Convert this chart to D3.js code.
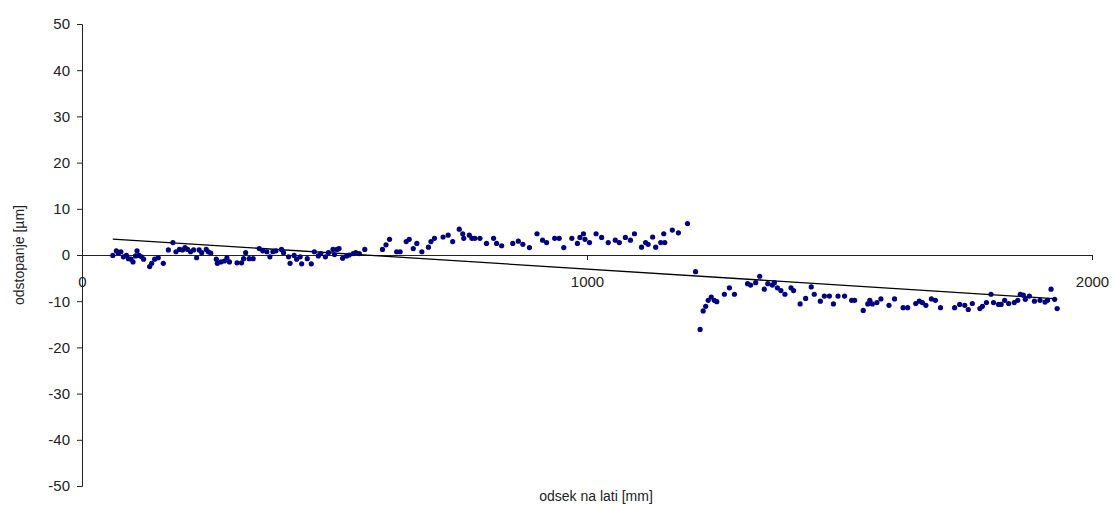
<!DOCTYPE html>
<html>
<head>
<meta charset="utf-8">
<script src="https://cdn.jsdelivr.net/npm/d3@7"></script>
<style>
  body { margin: 0; background: #fff; }
  text { font-family: "Liberation Sans", Arial, sans-serif; fill: #222; }
</style>
</head>
<body>
<svg></svg>
<script>
// odsek [mm] / odstopanje [um]
const seg1_x = [61,68,72,77,82,88,92,97,101,106,109,113,118,122,134,138,144,151,161,171,180,186,193,199,204,209,215,221,227,232,237,246,250,255,266,268,275,282,287,292,307,316,320,324,331,339,351,358,366,372,378,384,395,399,409,412,420,425,432,
  435,446,454,460,468,473,482,488,497,500,505,509,516,524,529,537,542,549,560,595,602,609,623,630,642,648,656,663,673,686,691,698,715,725,734,747,754,756,767,772,778,788,801,815,821,831,
  853,864,873,886,901,912,920,936,945,954,970,981,986,993,996,1005,1018,1029,1042,1056,1064,1076,1086,1094,1108,1116,1121,1130,1136,1146,1154,1152,1169,1181,1199];
const seg1_y = [-0.1,0.9,0.4,0.7,-0.4,-0.1,-0.8,-0.9,-1.5,-0.2,0.9,-0.1,-0.4,-0.9,-2.5,-1.8,-0.9,-0.6,-1.8,1.1,2.7,0.7,1.2,1.1,1.6,1.2,0.7,1.1,-0.6,1.1,0.5,1.2,0.7,0.4,-0.9,-1.8,-1.5,-1.3,-0.6,-1.5,-1.7,-1.7,-0.8,0.5,-0.8,-0.8,1.4,0.9,0.7,-0.4,0.7,0.9,1.2,0.5,-0.4,-1.8,-0.1,-0.9,-0.4,
  -1.9,-0.8,-1.9,0.7,-0.2,0.3,-0.4,0.5,1.2,0.1,1.2,1.4,-0.7,-0.2,0,0.3,0.5,0.3,1.2,1.2,2.2,3.4,0.7,0.7,2.9,3.4,1.4,2.5,0.7,1.7,2.9,3.6,3.9,4.3,2.9,5.6,4.6,3.6,4.3,3.6,3.6,3.6,2.5,3.6,2.5,2.0,
  2.5,3.0,2.3,1.6,4.6,3.2,2.7,3.6,3.6,1.6,3.6,2.5,3.8,4.6,3.4,2.7,4.6,3.8,2.7,3.2,2.7,3.8,3.2,4.6,1.7,2.7,2.3,3.9,1.7,2.7,2.7,4.6,5.4,4.8,6.8];
const seg2_x = [1215,1224,1230,1235,1240,1246,1252,1257,1272,1282,1292,1318,1324,1334,1342,1351,1358,1367,1371,1377,1384,1392,1404,1409,1422,1433,1444,1450,1462,1470,1480,1488,1497,1510,1524,1530,1547,1556,1560,1565,
  1574,1582,1598,1609,1626,1635,1651,1658,1664,1671,1682,1690,1700,1728,1738,1748,1755,1763,1778,1783,1791,1800,1805,1815,1820,1827,1835,1846,1853,1858,1864,1868,1876,1886,1897,1907,1912,1919,1926,1931];
const seg2_y = [-3.6,-16.1,-12.1,-11.1,-9.8,-9.1,-9.8,-10.1,-8.5,-7.1,-8.5,-6.2,-6.5,-6.0,-4.6,-7.4,-6.2,-6.5,-6.0,-7.1,-7.7,-8.5,-7.1,-7.7,-10.6,-9.4,-6.9,-8.5,-10.0,-8.9,-8.9,-10.6,-8.9,-8.9,-9.8,-9.8,-12.0,-10.6,-9.8,-10.6,
  -10.3,-9.5,-10.9,-9.5,-11.4,-11.4,-10.5,-10.0,-10.3,-10.9,-9.5,-9.8,-11.4,-11.4,-10.7,-10.9,-11.8,-10.5,-11.6,-11.1,-10.3,-8.5,-10.3,-10.7,-10.7,-9.8,-10.5,-10.3,-9.8,-8.5,-8.7,-9.6,-8.9,-10.0,-9.8,-10.2,-9.8,-7.4,-9.6,-11.6];

const x_ticks = [0, 1000, 2000];
const y_ticks = [50, 40, 30, 20, 10, 0, -10, -20, -30, -40, -50];
const x_label = "odsek na lati [mm]";
const y_label = "odstopanje [\u00b5m]";

function buildPlot(){
    const width = 1113, height = 505;
    const svg = d3.select("svg").attr("width", width).attr("height", height)
        .attr("viewBox", [0, 0, width, height]);

    const x_scale = d3.scaleLinear().domain([0, 2000]).range([82, 1092]);
    const y_scale = d3.scaleLinear().domain([-50, 50]).range([486, 24]);

    const data = seg1_x.map((x, i) => ({x: x, y: seg1_y[i]}))
        .concat(seg2_x.map((x, i) => ({x: x, y: seg2_y[i]})));

    // y axis at x = 0 (plain hyphen for minus, like the original)
    const y_axis = d3.axisLeft(y_scale).tickValues(y_ticks).tickSize(5).tickPadding(7)
        .tickFormat(d => String(d));
    const gy = svg.append("g").attr("transform", `translate(${x_scale(0)},0)`).call(y_axis);
    gy.selectAll("text").style("font-size", "15px").attr("fill", "#222");
    gy.selectAll("line, path").attr("stroke", "#222");

    // x axis through y = 0, labels pushed lower
    const x_axis = d3.axisBottom(x_scale).tickValues(x_ticks).tickSize(5).tickSizeOuter(0)
        .tickPadding(16).tickFormat(d => String(d));
    const gx = svg.append("g").attr("transform", `translate(0,${y_scale(0)})`).call(x_axis);
    gx.selectAll("text").style("font-size", "15px").attr("fill", "#222");
    gx.selectAll("line, path").attr("stroke", "#222");
    gx.selectAll(".tick").filter(d => d === 0).select("line").remove();

    // linear trend (least squares over all points)
    const mx = d3.mean(data, d => d.x), my = d3.mean(data, d => d.y);
    const slope = d3.sum(data, d => (d.x - mx) * (d.y - my)) / d3.sum(data, d => (d.x - mx) ** 2);
    const icpt = my - slope * mx;
    const ext = d3.extent(data, d => d.x);
    svg.append("path")
        .attr("fill", "none").attr("stroke", "#000").attr("stroke-width", 1.3)
        .attr("d", d3.line().x(d => x_scale(d)).y(d => y_scale(icpt + slope * d))(ext));

    svg.append("g").selectAll("circle").data(data).join("circle")
        .attr("cx", d => x_scale(d.x)).attr("cy", d => y_scale(d.y))
        .attr("r", 2.6).attr("fill", "#000080");

    // labels
    svg.append("text")
        .attr("text-anchor", "middle")
        .attr("transform", `translate(24,${y_scale(0)}) rotate(-90)`)
        .style("font-size", "14px")
        .text(y_label);
    svg.append("text")
        .attr("x", 596).attr("y", 501)
        .attr("text-anchor", "middle")
        .style("font-size", "14px")
        .text(x_label);
}
buildPlot();
</script>
</body>
</html>
